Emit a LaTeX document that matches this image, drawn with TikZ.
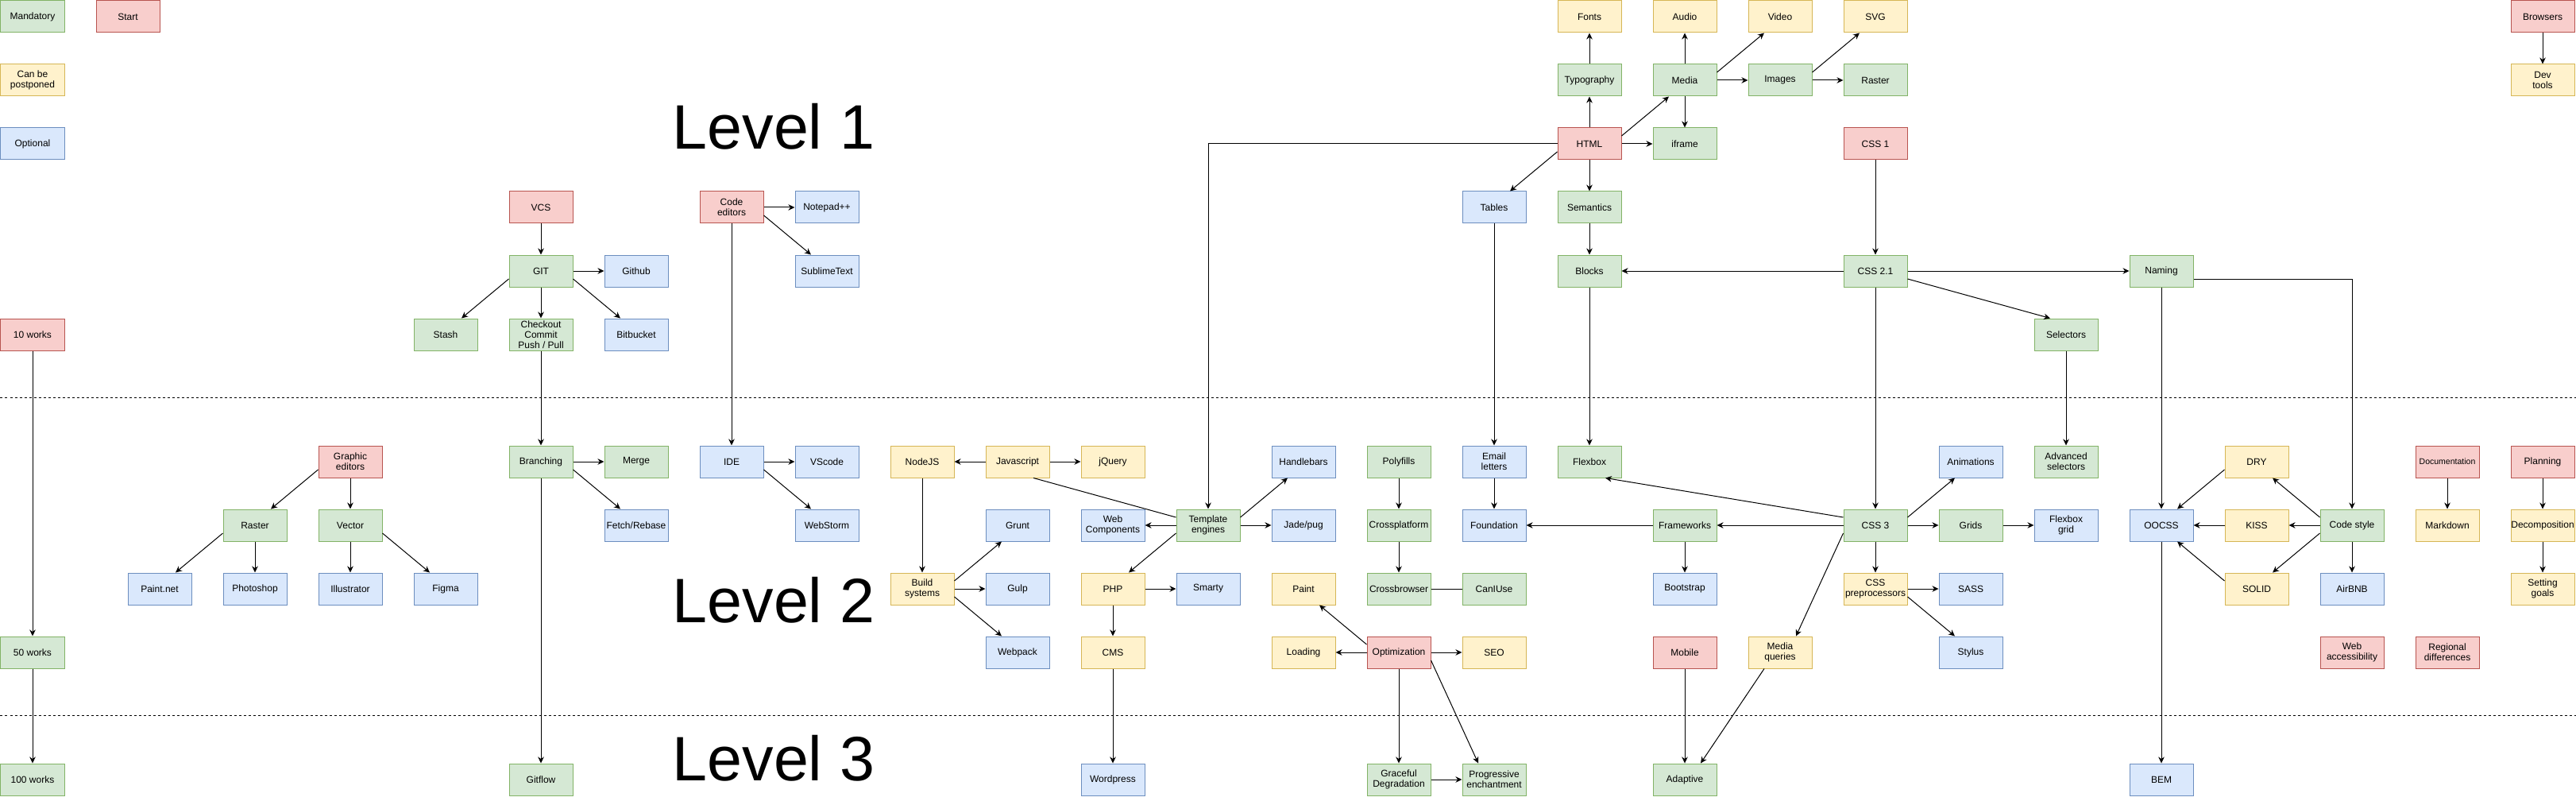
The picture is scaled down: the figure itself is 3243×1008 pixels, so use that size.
\documentclass[tikz,border=0pt]{standalone}
\usepackage{fontspec}
\setmainfont{Liberation Sans}
\usepackage{tikz}
\usetikzlibrary{arrows.meta}
\usepackage{xcolor}
\definecolor{must_fill}{HTML}{D5E8D4}
\definecolor{must_line}{HTML}{82B366}
\definecolor{start_fill}{HTML}{F8CECC}
\definecolor{start_line}{HTML}{B85450}
\definecolor{later_fill}{HTML}{FFF2CC}
\definecolor{later_line}{HTML}{D6B656}
\definecolor{optional_fill}{HTML}{DAE8FC}
\definecolor{optional_line}{HTML}{6C8EBF}
\colorlet{link_line}{black}

\begin{document}
\begin{tikzpicture}[
    x=1pt, y=-1pt,
    box/.style={draw, rectangle, anchor=north west, minimum width=80pt, minimum height=40pt,
      inner sep=0pt, align=center, line width=1pt, font=\fontsize{12}{13}\selectfont},
    mandatory-box/.style={box, fill=must_fill, draw=must_line},
    start-box/.style={box, fill=start_fill, draw=start_line},
    later-box/.style={box, fill=later_fill, draw=later_line},
    optional-box/.style={box, fill=optional_fill, draw=optional_line},
    link/.style={color=link_line, line width=1pt, -{Stealth[length=8pt, width=7.5pt, inset=2.5pt]}},
    plain-link/.style={color=link_line, line width=1pt},
    level-line/.style={color=black, line width=1pt, dash pattern=on 3pt off 3pt},
    level-label/.style={anchor=base west, inner sep=0pt, font=\fontsize{79}{90}\selectfont},
  ]
  \useasboundingbox (-0.5,-0.5) rectangle (3242.5,1007.5);

  %%%%%%%%%% Level separators %%%%%%%%%%
  \draw[level-line] (0,500) -- (3243,500);
  \draw[level-line] (0,900) -- (3243,900);

  %%%%%%%%%% Level titles %%%%%%%%%%
  \node[level-label] (level1) at (846,187) {Level 1};
  \node[level-label] (level2) at (846,783) {Level 2};
  \node[level-label] (level3) at (846,982) {Level 3};

  %%%%%%%%%% Legend and works %%%%%%%%%%
  \node[mandatory-box] (mandatory) at (0,0) {Mandatory};
  \node[start-box] (start) at (120,0) {Start};
  \node[later-box] (postponed) at (0,80) {Can be\\postponed};
  \node[optional-box] (optional) at (0,160) {Optional};
  \node[start-box] (works10) at (0,400) {10 works};
  \node[mandatory-box] (works50) at (0,800) {50 works};
  \node[mandatory-box] (works100) at (0,960) {100 works};

  %%%%%%%%%% Graphic editors %%%%%%%%%%
  \node[start-box] (graphic) at (400,560) {Graphic\\editors};
  \node[mandatory-box] (rasterimg) at (280,640) {Raster};
  \node[mandatory-box] (vector) at (400,640) {Vector};
  \node[optional-box] (paintnet) at (160,720) {Paint.net};
  \node[optional-box] (photoshop) at (280,720) {Photoshop};
  \node[optional-box] (illustrator) at (400,720) {Illustrator};
  \node[optional-box] (figma) at (520,720) {Figma};

  %%%%%%%%%% VCS %%%%%%%%%%
  \node[start-box] (vcs) at (640,240) {VCS};
  \node[mandatory-box] (git) at (640,320) {GIT};
  \node[optional-box] (github) at (760,320) {Github};
  \node[mandatory-box] (stash) at (520,400) {Stash};
  \node[mandatory-box] (checkout) at (640,400) {Checkout\\Commit\\Push / Pull};
  \node[optional-box] (bitbucket) at (760,400) {Bitbucket};
  \node[mandatory-box] (branching) at (640,560) {Branching};
  \node[mandatory-box] (merge) at (760,560) {Merge};
  \node[optional-box] (fetch) at (760,640) {Fetch/Rebase};
  \node[mandatory-box] (gitflow) at (640,960) {Gitflow};

  %%%%%%%%%% Code editors %%%%%%%%%%
  \node[start-box] (editors) at (880,240) {Code\\editors};
  \node[optional-box] (notepad) at (1000,240) {Notepad++};
  \node[optional-box] (sublime) at (1000,320) {SublimeText};
  \node[optional-box] (ide) at (880,560) {IDE};
  \node[optional-box] (vscode) at (1000,560) {VScode};
  \node[optional-box] (webstorm) at (1000,640) {WebStorm};

  %%%%%%%%%% Javascript and templates %%%%%%%%%%
  \node[later-box] (nodejs) at (1120,560) {NodeJS};
  \node[later-box] (js) at (1240,560) {Javascript};
  \node[later-box] (jquery) at (1360,560) {jQuery};
  \node[later-box] (build) at (1120,720) {Build\\systems};
  \node[optional-box] (grunt) at (1240,640) {Grunt};
  \node[optional-box] (gulp) at (1240,720) {Gulp};
  \node[optional-box] (webpack) at (1240,800) {Webpack};
  \node[optional-box] (webcomp) at (1360,640) {Web\\Components};
  \node[mandatory-box] (templates) at (1480,640) {Template\\engines};
  \node[optional-box] (handlebars) at (1600,560) {Handlebars};
  \node[optional-box] (jade) at (1600,640) {Jade/pug};
  \node[later-box] (php) at (1360,720) {PHP};
  \node[optional-box] (smarty) at (1480,720) {Smarty};
  \node[later-box] (cms) at (1360,800) {CMS};
  \node[optional-box] (wordpress) at (1360,960) {Wordpress};

  %%%%%%%%%% Optimization %%%%%%%%%%
  \node[mandatory-box] (polyfills) at (1720,560) {Polyfills};
  \node[mandatory-box] (crossplatform) at (1720,640) {Crossplatform};
  \node[mandatory-box] (crossbrowser) at (1720,720) {Crossbrowser};
  \node[mandatory-box] (caniuse) at (1840,720) {CanIUse};
  \node[later-box] (paint) at (1600,720) {Paint};
  \node[later-box] (loading) at (1600,800) {Loading};
  \node[start-box] (optimization) at (1720,800) {Optimization};
  \node[later-box] (seo) at (1840,800) {SEO};
  \node[mandatory-box] (graceful) at (1720,960) {Graceful\\Degradation};
  \node[mandatory-box] (progressive) at (1840,960) {Progressive\\enchantment};

  %%%%%%%%%% HTML %%%%%%%%%%
  \node[later-box] (fonts) at (1960,0) {Fonts};
  \node[later-box] (audio) at (2080,0) {Audio};
  \node[later-box] (video) at (2200,0) {Video};
  \node[later-box] (svg) at (2320,0) {SVG};
  \node[mandatory-box] (typography) at (1960,80) {Typography};
  \node[mandatory-box] (media) at (2080,80) {Media};
  \node[mandatory-box] (images) at (2200,80) {Images};
  \node[mandatory-box] (rastertop) at (2320,80) {Raster};
  \node[start-box] (html) at (1960,160) {HTML};
  \node[mandatory-box] (iframe) at (2080,160) {iframe};
  \node[optional-box] (tables) at (1840,240) {Tables};
  \node[mandatory-box] (semantics) at (1960,240) {Semantics};
  \node[mandatory-box] (blocks) at (1960,320) {Blocks};
  \node[optional-box] (email) at (1840,560) {Email\\letters};
  \node[optional-box] (foundation) at (1840,640) {Foundation};
  \node[mandatory-box] (flexbox) at (1960,560) {Flexbox};

  %%%%%%%%%% CSS %%%%%%%%%%
  \node[start-box] (css1) at (2320,160) {CSS 1};
  \node[mandatory-box] (css21) at (2320,320) {CSS 2.1};
  \node[mandatory-box] (selectors) at (2560,400) {Selectors};
  \node[mandatory-box] (advanced) at (2560,560) {Advanced\\selectors};
  \node[mandatory-box] (css3) at (2320,640) {CSS 3};
  \node[mandatory-box] (frameworks) at (2080,640) {Frameworks};
  \node[optional-box] (bootstrap) at (2080,720) {Bootstrap};
  \node[start-box] (mobile) at (2080,800) {Mobile};
  \node[mandatory-box] (adaptive) at (2080,960) {Adaptive};
  \node[later-box] (mediaq) at (2200,800) {Media\\queries};
  \node[later-box] (preproc) at (2320,720) {CSS\\preprocessors};
  \node[optional-box] (animations) at (2440,560) {Animations};
  \node[mandatory-box] (grids) at (2440,640) {Grids};
  \node[optional-box] (flexgrid) at (2560,640) {Flexbox\\grid};
  \node[optional-box] (sass) at (2440,720) {SASS};
  \node[optional-box] (stylus) at (2440,800) {Stylus};

  %%%%%%%%%% Naming and code style %%%%%%%%%%
  \node[mandatory-box] (naming) at (2680,320) {Naming};
  \node[optional-box] (oocss) at (2680,640) {OOCSS};
  \node[optional-box] (bem) at (2680,960) {BEM};
  \node[later-box] (dry) at (2800,560) {DRY};
  \node[later-box] (kiss) at (2800,640) {KISS};
  \node[later-box] (solid) at (2800,720) {SOLID};
  \node[mandatory-box] (codestyle) at (2920,640) {Code style};
  \node[optional-box] (airbnb) at (2920,720) {AirBNB};
  \node[start-box] (webacc) at (2920,800) {Web\\accessibility};

  %%%%%%%%%% Right column %%%%%%%%%%
  \node[start-box, font=\fontsize{10.5}{12}\selectfont] (docs) at (3040,560) {Documentation};
  \node[later-box] (markdown) at (3040,640) {Markdown};
  \node[start-box] (regional) at (3040,800) {Regional\\differences};
  \node[start-box] (browsers) at (3160,0) {Browsers};
  \node[later-box] (devtools) at (3160,80) {Dev\\tools};
  \node[start-box] (planning) at (3160,560) {Planning};
  \node[later-box] (decomp) at (3160,640) {Decomposition};
  \node[later-box] (goals) at (3160,720) {Setting\\goals};

  %%%%%%%%%% Straight links %%%%%%%%%%
  \foreach \from/\to in {
    vcs/git, git/github, git/checkout, checkout/branching, branching/merge, branching/gitflow,
    works10/works50, works50/works100, graphic/vector, rasterimg/photoshop, vector/illustrator,
    editors/notepad, editors/ide, ide/vscode, html/typography, typography/fonts, html/iframe,
    media/audio, media/images, media/iframe, images/rastertop, html/semantics, semantics/blocks,
    tables/email, email/foundation, blocks/flexbox, css1/css21, css21/blocks, css21/naming,
    css21/css3, selectors/advanced, naming/oocss, oocss/bem, browsers/devtools, js/nodejs,
    js/jquery, nodejs/build, build/gulp, templates/webcomp, templates/jade, php/smarty, php/cms,
    cms/wordpress, polyfills/crossplatform, crossplatform/crossbrowser, optimization/loading,
    optimization/seo, optimization/graceful, graceful/progressive, css3/frameworks,
    frameworks/foundation, frameworks/bootstrap, css3/preproc, mobile/adaptive, css3/grids,
    grids/flexgrid, preproc/sass, kiss/oocss, codestyle/kiss, codestyle/airbnb, docs/markdown,
    planning/decomp, decomp/goals} {
    \draw[link] (\from) -- (\to);
  }

  %%%%%%%%%% Side links %%%%%%%%%%
  \draw[link] ([yshift=-10pt]git.west) -- ([xshift=20pt]stash.north);
  \draw[link] ([yshift=-10pt]git.east) -- ([xshift=-20pt]bitbucket.north);
  \draw[link] ([yshift=-10pt]branching.east) -- ([xshift=-20pt]fetch.north);
  \draw[link] ([yshift=-10pt]graphic.west) -- ([xshift=20pt]rasterimg.north);
  \draw[link] ([yshift=-10pt]rasterimg.west) -- ([xshift=20pt]paintnet.north);
  \draw[link] ([yshift=-10pt]vector.east) -- ([xshift=-20pt]figma.north);
  \draw[link] ([yshift=-10pt]editors.east) -- ([xshift=-20pt]sublime.north);
  \draw[link] ([yshift=-10pt]ide.east) -- ([xshift=-20pt]webstorm.north);
  \draw[link] ([yshift=10pt]html.east) -- ([xshift=-20pt]media.south);
  \draw[link] ([yshift=10pt]media.east) -- ([xshift=-20pt]video.south);
  \draw[link] ([yshift=10pt]images.east) -- ([xshift=-20pt]svg.south);
  \draw[link] ([yshift=-10pt]html.west) -- ([xshift=20pt]tables.north);
  \draw[link] (html.west) -| (templates.north);
  \draw[link] ([yshift=-10pt]css21.east) -- ([xshift=-20pt]selectors.north);
  \draw[link] ([yshift=-10pt]naming.east) -| (codestyle.north);
  \draw[link] ([yshift=10pt]build.east) -- ([xshift=-20pt]grunt.south);
  \draw[link] ([yshift=-10pt]build.east) -- ([xshift=-20pt]webpack.north);
  \draw[link] ([yshift=10pt]templates.east) -- ([xshift=-20pt]handlebars.south);
  \draw[link] ([yshift=-10pt]templates.west) -- ([xshift=20pt]php.north);
  \draw[link] ([yshift=10pt]optimization.west) -- ([xshift=20pt]paint.south);
  \draw[link] ([yshift=-10pt]optimization.east) -- ([xshift=-20pt]progressive.north);
  \draw[link] ([yshift=10pt]css3.west) -- ([xshift=20pt]flexbox.south);
  \draw[link] ([yshift=-10pt]css3.west) -- ([xshift=20pt]mediaq.north);
  \draw[link] ([xshift=-20pt]mediaq.south) -- ([xshift=20pt]adaptive.north);
  \draw[link] ([yshift=10pt]css3.east) -- ([xshift=-20pt]animations.south);
  \draw[link] ([yshift=-10pt]preproc.east) -- ([xshift=-20pt]stylus.north);
  \draw[link] ([yshift=-10pt]dry.west) -- ([xshift=20pt]oocss.north);
  \draw[link] ([yshift=10pt]solid.west) -- ([xshift=20pt]oocss.south);
  \draw[link] ([yshift=10pt]codestyle.west) -- ([xshift=20pt]dry.south);
  \draw[link] ([yshift=-10pt]codestyle.west) -- ([xshift=20pt]solid.north);

  %%%%%%%%%% Plain links %%%%%%%%%%
  \draw[plain-link] ([xshift=20pt]js.south) -- ([yshift=10pt]templates.west);
  \draw[plain-link] (crossbrowser) -- (caniuse);

\end{tikzpicture}
\end{document}
